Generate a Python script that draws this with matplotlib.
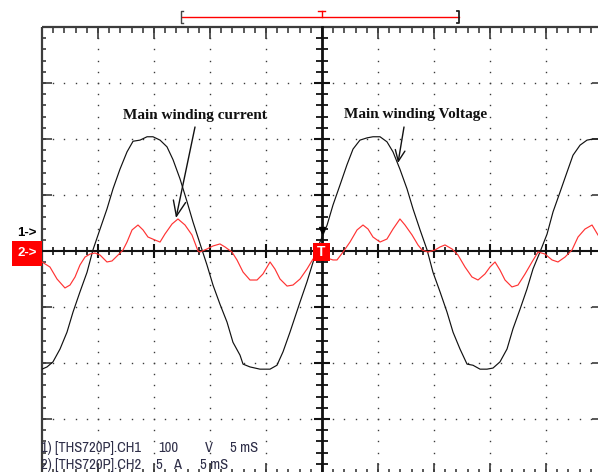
import matplotlib
matplotlib.use('Agg')
import matplotlib.pyplot as plt
import matplotlib.markers as mk
from matplotlib import font_manager
from matplotlib.patches import Rectangle
import numpy as np

# ---------------- data ----------------
MS_PER_DIV = 5      # time base
V_PER_DIV = 100     # CH1
A_PER_DIV = 5       # CH2
N_XDIV = 10
N_YDIV = 8

volt_t_ms = [0.00, 0.45, 0.98, 1.61, 2.23, 2.77, 3.39, 4.02, 4.55, 5.18, 5.80, 6.34, 6.96, 7.59,
             8.13, 8.75, 9.38, 9.91, 10.54, 11.16, 11.70, 12.32, 12.95, 13.48, 14.11, 14.73,
             15.27, 15.89, 16.52, 17.05, 17.68, 17.95, 18.57, 19.46, 20.36, 20.98, 21.52, 22.14,
             23.04, 23.66, 24.20, 24.82, 25.45, 25.98, 26.61, 27.23, 27.77, 28.39, 29.02, 29.55,
             30.18, 30.80, 31.34, 31.96, 32.59, 33.13, 33.75, 34.38, 34.91, 35.54, 36.16, 36.70,
             37.32, 37.95, 38.48, 39.11, 39.73, 40.27, 40.89, 41.52, 42.05, 42.68, 43.30, 43.84,
             44.46, 45.09, 45.63, 46.25, 46.88, 47.41, 48.04, 48.66, 49.20, 49.64]
volt_v = [-211, -207, -198, -175, -145, -109, -73, -38, 2, 39, 75, 111, 146, 177,
          196, 198, 204, 204, 198, 186, 163, 129, 88, 52, 13, -25,
          -61, -95, -127, -163, -186, -202, -207, -211, -211, -204, -180, -145,
          -91, -55, -20, 16, 46, 82, 118, 154, 182, 198, 202, 204,
          204, 195, 177, 146, 111, 75, 38, 2, -38, -73, -109, -145,
          -175, -202, -204, -211, -211, -209, -198, -175, -139, -104, -68, -32,
          -2, 30, 70, 105, 141, 171, 189, 198, 200, 200]

curr_t_ms = [0.00, 0.71, 1.34, 2.05, 2.50, 2.95, 3.39, 3.84, 4.29, 4.73, 5.18, 5.80, 6.25, 6.79,
             7.23, 7.59, 8.04, 8.57, 9.02, 9.46, 10.09, 10.54, 10.98, 11.61, 12.14, 12.77,
             13.39, 13.93, 14.11, 14.73, 15.27, 15.89, 16.34, 16.96, 17.41, 17.95, 18.57, 19.20,
             19.73, 20.36, 20.80, 21.25, 21.88, 22.41, 23.04, 23.66, 24.20, 24.82, 25.45, 25.98,
             26.34, 26.88, 27.50, 28.13, 28.66, 29.11, 29.55, 30.18, 30.80, 31.34, 31.96, 32.41,
             33.04, 33.57, 33.93, 34.46, 35.09, 35.54, 35.98, 36.61, 37.14, 37.77, 38.39, 38.93,
             39.55, 40.00, 40.45, 40.89, 41.34, 41.96, 42.50, 43.13, 43.75, 44.29, 44.91, 45.54,
             46.07, 46.70, 47.32, 47.86, 48.48, 49.11, 49.64]
curr_a = [-0.98, -1.43, -2.50, -3.30, -3.04, -2.32, -1.25, -0.54, -0.27, -0.18, -0.36, -0.98, -0.89, -0.36,
          0.09, 0.80, 1.88, 2.32, 1.88, 1.25, 0.98, 0.80, 1.52, 2.41, 2.86, 2.32,
          1.43, 0.00, -0.09, 0.18, 0.45, 0.63, 0.36, -0.09, -0.80, -1.88, -2.59, -2.59,
          -2.05, -0.98, -1.61, -2.50, -3.13, -3.04, -2.50, -1.61, -0.71, -0.09, -0.63, -0.80,
          -0.80, -0.09, 0.80, 1.88, 2.32, 1.96, 1.25, 0.80, 1.07, 1.96, 2.86, 2.32,
          1.43, 0.54, 0.09, -0.09, 0.09, 0.36, 0.54, 0.18, -0.36, -1.43, -2.32, -2.59,
          -2.05, -1.43, -0.98, -1.70, -2.59, -3.21, -3.04, -2.05, -0.98, -0.09, -0.27, -0.80,
          -0.98, -0.54, 0.09, 1.25, 1.96, 2.32, 1.43]

ch1_parts = ["1) [THS720P].CH1", "100", "V", "5 mS"]
ch2_parts = ["2) [THS720P].CH2", "5", "A", "5 mS"]
annot_current = "Main winding current"
annot_voltage = "Main winding Voltage"
marker_ch1 = "1->"
marker_ch2 = "2->"
marker_trig = "T"

# narrow sans font for the channel settings, if available
_names = {f.name for f in font_manager.fontManager.ttflist}
info_family, info_size = 'Roboto', 9.0
for _fam, _sz in [('Archivo Narrow', 10.5), ('PT Sans Narrow', 11.0),
                  ('Liberation Sans Narrow', 10.5), ('Roboto Condensed', 10.0)]:
    if _fam in _names:
        info_family, info_size = _fam, _sz
        break

# ---------------- figure ----------------
W, H = 598, 472
fig = plt.figure(figsize=(W / 100, H / 100), dpi=100)
fig.patch.set_facecolor('white')

# screen area: 10 x 8 divisions of 56 px, left edge at x=42, top edge at y=27
ax = fig.add_axes([42 / W, (H - 475) / H, 560 / W, 448 / H])
xmax = N_XDIV * MS_PER_DIV
ax.set_xlim(0, xmax)
ax.set_ylim(-N_YDIV / 2, N_YDIV / 2)
ax.axis('off')

xmaj = np.arange(0, xmax + 0.01, MS_PER_DIV)
ymaj = np.arange(-N_YDIV / 2, N_YDIV / 2 + 0.01, 1)
xmin = np.arange(0, xmax + 0.01, MS_PER_DIV / 5)
ymin = np.round(np.arange(-N_YDIV / 2, N_YDIV / 2 + 0.01, 0.2), 3)
xc = xmax / 2

dotc = '#3a3a3a'
# dotted graticule
gx, gy = np.meshgrid([x for x in xmaj if 0 < x < xmax and x != xc], ymin)
ax.plot(gx.ravel(), gy.ravel(), ls='none', marker='s', ms=1.0, mec='none', mfc=dotc, zorder=1)
gx, gy = np.meshgrid(xmin, [y for y in ymaj if abs(y) < N_YDIV / 2 and y != 0])
ax.plot(gx.ravel(), gy.ravel(), ls='none', marker='s', ms=1.0, mec='none', mfc=dotc, zorder=1)

# frame
bc = '#3c3c3c'
kw = dict(color=bc, lw=1.6, clip_on=False, zorder=2, solid_capstyle='butt')
ax.plot([0, 0], [-4, 4], **kw)
ax.plot([0, xmax], [4, 4], **kw)
ax.plot([xmax, xmax], [-4, 4], **kw)
ax.plot([0, xmax], [-4, -4], **kw)

def ticks(x, y, marker, size, lw=1.2, color=bc):
    ax.plot(x, y, ls='none', marker=marker, ms=size, mew=lw, color=color, clip_on=False, zorder=2)

ymin_in = ymin[(ymin > -4) & (ymin < 4)]
ymaj_in = ymaj[(ymaj > -4) & (ymaj < 4)]
xmin_in = xmin[(xmin > 0) & (xmin < xmax)]
xmaj_in = xmaj[(xmaj > 0) & (xmaj < xmax)]
ticks(np.zeros_like(ymin_in), ymin_in, mk.TICKRIGHT, 3.0)
ticks(np.zeros_like(ymaj_in), ymaj_in, mk.TICKRIGHT, 7.5)
ticks(np.full_like(ymin_in, xmax), ymin_in, mk.TICKLEFT, 3.0)
ticks(np.full_like(ymaj_in, xmax), ymaj_in, mk.TICKLEFT, 7.5)
ticks(xmin_in, np.full_like(xmin_in, 4), mk.TICKDOWN, 4.3)
ticks(xmaj_in, np.full_like(xmaj_in, 4), mk.TICKDOWN, 8.6)
ticks(xmin_in, np.full_like(xmin_in, -4), mk.TICKUP, 4.3)
ticks(xmaj_in, np.full_like(xmaj_in, -4), mk.TICKUP, 8.6)

# center cross with ticks
cc = '#111111'
ax.plot([0, xmax], [0, 0], color=cc, lw=1.5, zorder=2, clip_on=False)
ax.plot([xc, xc], [-4, 4], color=cc, lw=2.0, zorder=2, clip_on=False)
ticks(xmin_in, np.zeros_like(xmin_in), '|', 6.0, 1.2, cc)
ticks(xmaj_in, np.zeros_like(xmaj_in), '|', 10.0, 1.5, cc)
ticks(np.full_like(ymin_in, xc), ymin_in, '_', 8.0, 1.3, cc)
ticks(np.full_like(ymaj_in, xc), ymaj_in, '_', 11.5, 1.5, cc)

# waveforms
ax.plot(volt_t_ms, np.array(volt_v) / V_PER_DIV, color='#111111', lw=0.85, zorder=3)
ax.plot(curr_t_ms, np.array(curr_a) / A_PER_DIV, color='#ff3333', lw=0.85, zorder=4)

# ---------------- overlay in pixel coordinates ----------------
ov = fig.add_axes([0, 0, 1, 1], zorder=10)
ov.set_xlim(0, W)
ov.set_ylim(H, 0)
ov.axis('off')

red = '#ff0000'
# horizontal position bracket at top
ov.plot([182, 459], [17, 17], color=red, lw=1.0)
ov.plot([183, 181, 181, 183], [11, 11, 23, 23], color='#444444', lw=1.0)
ov.plot([457, 459, 459, 457], [11, 11, 23, 23], color='#222222', lw=1.3)
ov.plot([318, 325], [11, 11], color=red, lw=1.0)
ov.plot([321.5, 321.5], [11, 17], color=red, lw=1.0)

# channel markers
ov.text(27, 233.5, marker_ch1, ha='center', va='center', fontsize=9.5, fontweight='bold',
        color='black', family='Liberation Sans')
ov.add_patch(Rectangle((12, 241), 30, 25, color=red, lw=0, zorder=5))
ov.text(27, 253.5, marker_ch2, ha='center', va='center', fontsize=9.5, fontweight='bold',
        color='white', family='Liberation Sans', zorder=6)
# trigger marker
ov.add_patch(Rectangle((313, 243), 17, 18, color=red, lw=0, zorder=5))
ov.text(321.5, 252.5, marker_trig, ha='center', va='center', fontsize=10, fontweight='bold',
        color='white', family='Liberation Sans', zorder=6)
ov.plot([321.5], [230], ls='none', marker='v', ms=4.5, color='black', zorder=6)

# annotations
tkw = dict(ha='center', va='baseline', fontsize=11, fontweight='bold',
           family='Liberation Serif', color='#111111')
ov.text(194.5, 119, annot_current, **tkw)
ov.text(416, 118, annot_voltage, **tkw)
ov.annotate('', xy=(176, 218), xytext=(195, 127),
            arrowprops=dict(arrowstyle='->,head_length=1.1,head_width=0.45', lw=1.0,
                            color='#111111', shrinkA=0, shrinkB=0))
ov.annotate('', xy=(398, 163), xytext=(404, 127),
            arrowprops=dict(arrowstyle='->,head_length=0.8,head_width=0.35', lw=1.0,
                            color='#111111', shrinkA=0, shrinkB=0))

# channel settings text
lkw = dict(ha='left', va='baseline', fontsize=info_size, family=info_family, color='#2e2e48')
for txt, x in zip(ch1_parts, [41, 158, 205, 230]):
    ov.text(x, 452, txt, **lkw)
for txt, x in zip(ch2_parts, [41, 155, 173, 200]):
    ov.text(x, 469, txt, **lkw)

fig.savefig('out.png', dpi=100, facecolor='white')
